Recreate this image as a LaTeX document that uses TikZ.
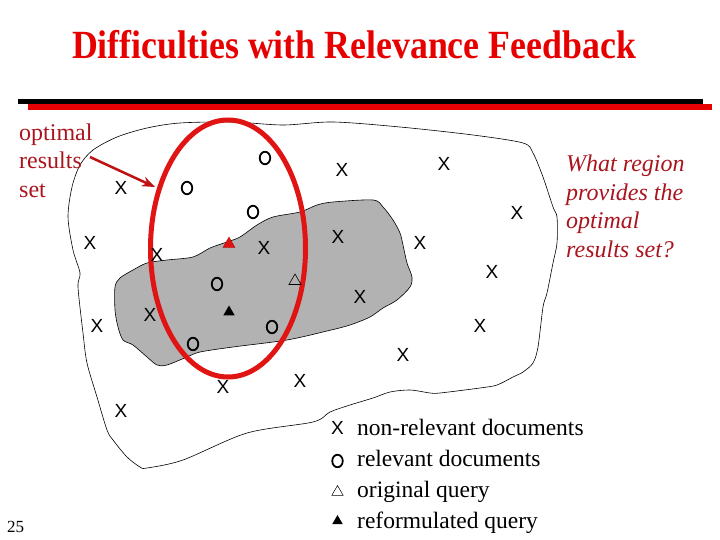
\documentclass[tikz,border=0pt]{standalone}
\usepackage{fontspec}
\setmainfont{Liberation Serif}
\newfontfamily\sansfam{Liberation Sans}
\usetikzlibrary{shapes.geometric,arrows.meta}
\definecolor{titlered}{RGB}{230,0,0}
\definecolor{labelred}{RGB}{170,20,30}
\definecolor{ringred}{RGB}{225,20,20}
\definecolor{blobgray}{RGB}{178,178,178}
\tikzset{
  mx/.style={inner sep=0pt, font=\sansfam\fontsize{19}{19}\selectfont},
  mo/.style={draw, ellipse, line width=1.8pt, minimum width=10.5pt, minimum height=12.5pt, inner sep=0pt},
  trired/.style={regular polygon, regular polygon sides=3, fill=ringred, draw=ringred!70!black, line width=0.3pt, minimum size=14pt, inner sep=0pt},
  triblack/.style={regular polygon, regular polygon sides=3, fill=black, minimum size=13pt, inner sep=0pt},
  triopen/.style={regular polygon, regular polygon sides=3, draw, line width=0.6pt, minimum size=14pt, inner sep=0pt},
  serif24/.style={font=\fontsize{24}{28.5}\selectfont, inner sep=0pt},
}
\begin{document}
\begin{tikzpicture}[x=1pt,y=-1pt]
\useasboundingbox (0,0) rectangle (720,540);
% title
\node[font=\bfseries\fontsize{40}{44}\selectfont, text=titlered, inner sep=0pt, anchor=base] (title) at (354,59) {\scalebox{0.895}[1]{Difficulties with Relevance Feedback}};
% rules
\draw[line width=5pt] (18,101.5) -- (703,101.5);
\draw[titlered, line width=5.5pt] (28,107) -- (712,107);
% outer region
\draw[line width=0.6pt, fill=white] plot[smooth cycle, tension=0.5] coordinates {
 (68,217) (72,187) (80,165) (93,150) (117,137) (147,128) (180,123) (233,122)
 (283,125) (333,122) (400,127) (473,135) (523,143) (533,153) (543,177) (553,207)
 (557,217) (557,243) (553,263) (547,293) (543,307) (538,347) (533,363) (523,372)
 (513,377) (497,385) (480,388) (440,393) (430,393) (410,390) (390,392) (373,398)
 (350,405) (330,412) (313,422) (247,433) (183,460) (147,468) (140,467) (127,457)
 (113,440) (107,430) (97,397) (87,363) (83,333) (78,287) (80,273) (73,250)};
% relevant region
\draw[line width=0.6pt, fill=blobgray] plot[smooth cycle, tension=0.5] coordinates {
 (115,287) (120,278) (133,270) (147,263) (167,260) (193,257) (210,248) (227,242)
 (240,237) (257,225) (273,217) (300,212) (317,205) (333,202) (373,200) (383,207)
 (393,220) (400,233) (403,245) (407,263) (412,277) (410,287) (397,300) (383,308)
 (370,317) (350,325) (327,331) (287,340) (233,347) (200,352) (187,357) (167,365)
 (157,365) (147,357) (133,345) (123,340) (118,327) (115,310)};
% optimal region
\node[draw=ringred, line width=5pt, ellipse, minimum width=155pt, minimum height=257pt, inner sep=0pt] (region) at (228,248.5) {};
% labels
\node[serif24, text=labelred, align=left, anchor=north west] (optlabel) at (19,123.5) {optimal\\results\\set};
\coordinate (tail) at (90,157);
\coordinate (tip) at (155,187);
\draw[ringred!85!black, line width=2.5pt, -{Stealth[length=13pt,width=10pt]}] (tail) -- (tip);
\node[serif24, text=labelred, align=left, anchor=north west, font=\itshape\fontsize{24}{28.5}\selectfont] (question) at (566,155) {What region\\provides the\\optimal\\results set?};
% non-relevant documents
\foreach \n/\p in {a/{(121,188)},b/{(90,243)},c/{(157,255)},d/{(264,248)},e/{(338,237)},f/{(342,170)},g/{(444,164)},h/{(517,213)},i/{(420,243)},j/{(492,272)},k/{(360,297)},l/{(150,315)},m/{(97,326)},n/{(480,326)},p/{(403,355)},q/{(300,381)},r/{(223,387)},s/{(121,411)}}
  \node[mx] (x\n) at \p {X};
% relevant documents
\foreach \n/\p in {a/{(265,158)},b/{(187,188)},c/{(253,212)},d/{(217,284)},e/{(272,327)},f/{(193,344)}}
  \node[mo] (o\n) at \p {};
% queries
\node[trired] (qred) at (229,244) {};
\node[triopen] (qorig) at (295,281) {};
\node[triblack] (qnew) at (229,312) {};
% legend
\node[mx] (lx) at (337.5,428) {X};
\node[mo] (lo) at (337.5,461) {};
\node[triopen, minimum size=13pt, line width=0.5pt] (ltri) at (337.5,492) {};
\node[triblack, minimum size=12pt] (lfill) at (337.5,521) {};
\node[serif24, align=left, anchor=north west, font=\fontsize{23.5}{31}\selectfont] (legend) at (357,418.5) {non-relevant documents\\relevant documents\\original query\\reformulated query};
% page number
\node[inner sep=0pt, font=\fontsize{17}{17}\selectfont, anchor=base west] (page) at (7,532) {25};
\end{tikzpicture}
\end{document}
